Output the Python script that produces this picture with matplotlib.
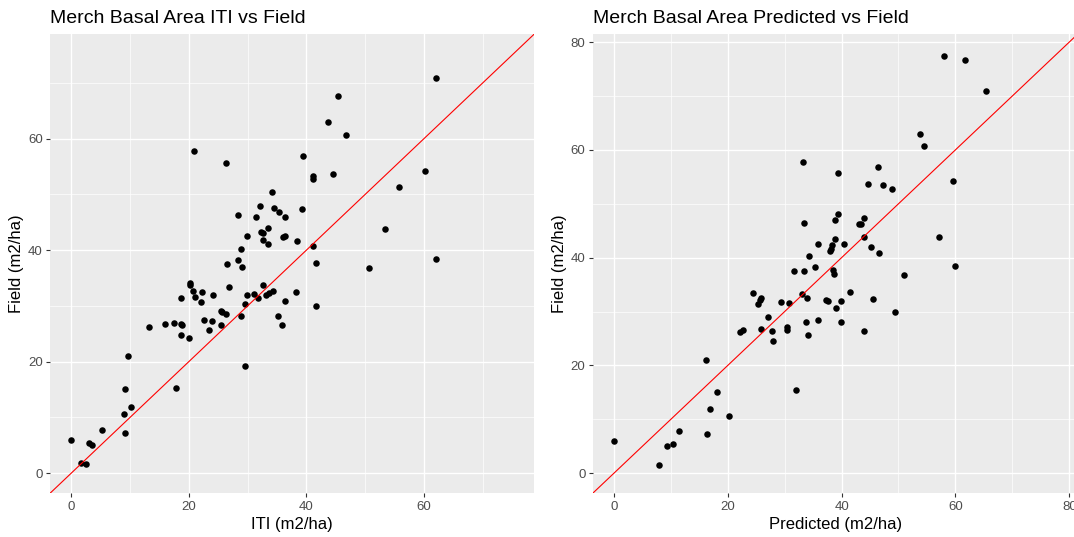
import matplotlib
matplotlib.use("Agg")
import matplotlib.pyplot as plt
from matplotlib.ticker import MultipleLocator

plt.rcParams['font.family'] = ['Liberation Sans', 'DejaVu Sans']

# ---- Data: ITI vs Field ----
iti_x = [20.9, 26.3, 62.1, 45.3, 43.6, 46.8, 39.5, 41.2, 41.1, 44.5, 60.2, 55.7,
         34.2, 32.1, 34.5, 35.4, 39.2, 28.3, 31.5, 36.4, 32.3, 32.6, 33.5, 29.9,
         32.6, 36.1, 36.3, 38.4, 33.4, 41.2, 28.9, 53.4, 62.1, 28.4, 26.5, 41.6,
         29.0, 50.6,
         20.2, 20.2, 20.7, 22.3, 26.9, 32.6, 34.3, 33.6, 33.2, 38.2, 29.9, 31.1,
         24.2, 21.1, 18.7, 31.7, 22.0, 29.5, 36.3, 41.6, 25.5, 25.7, 26.3, 28.9,
         35.1, 22.6, 23.9, 17.4, 15.9, 18.6, 18.9, 25.4, 35.8, 13.2, 23.4, 18.6,
         20.0, 29.6, 9.7, 17.8, 9.1, 10.2, 9.0, 9.1, 5.3, 0.0, 3.0, 3.6, 1.6, 2.6]
iti_field = [57.7, 55.7, 70.9, 67.7, 62.9, 60.6, 56.8, 53.3, 52.8, 53.6, 54.1, 51.4,
             50.5, 47.9, 47.6, 46.8, 47.4, 46.3, 46.0, 46.0, 43.2, 43.1, 43.9, 42.5,
             41.8, 42.3, 42.5, 41.7, 41.1, 40.8, 40.2, 43.7, 38.4, 38.3, 37.5, 37.7,
             37.0, 36.8,
             34.1, 33.7, 32.7, 32.5, 33.3, 33.8, 32.7, 32.3, 32.0, 32.5, 32.0, 32.1,
             31.9, 31.6, 31.4, 31.4, 30.7, 30.4, 30.9, 29.9, 29.0, 28.9, 28.5, 28.2,
             28.2, 27.5, 27.3, 26.9, 26.7, 26.7, 26.5, 26.5, 26.5, 26.3, 25.6, 24.7,
             24.3, 19.3, 21.0, 15.3, 15.1, 11.8, 10.6, 7.3, 7.8, 6.0, 5.5, 5.0, 1.9, 1.6]

# ---- Data: Predicted vs Field ----
pred_x = [58.0, 61.6, 65.4, 53.8, 54.5, 33.2, 39.3, 46.4, 44.6, 47.2, 48.9, 59.5,
          39.4, 38.8, 44.0, 33.4, 43.1, 43.4, 38.8, 44.0, 57.1, 40.5, 35.9, 38.4,
          38.2, 38.0, 45.2, 46.6, 34.2, 59.9, 35.4,
          31.7, 33.4, 38.5, 38.7, 51.0, 24.4, 41.5, 33.0, 25.9, 25.6, 34.0, 45.6,
          37.2, 37.7, 39.9, 29.3, 30.8, 25.3, 39.1, 49.4, 27.0, 35.8, 33.7, 39.9,
          30.4, 30.4, 25.9, 22.1, 22.7, 27.8, 44.0, 34.1, 27.9, 16.2, 32.0, 18.1,
          16.9, 20.3, 16.3, 11.5, 0.0, 9.3, 10.4, 8.0]
pred_field = [77.5, 76.7, 70.9, 63.0, 60.7, 57.7, 55.8, 56.8, 53.7, 53.4, 52.8, 54.2,
              48.1, 46.9, 47.4, 46.4, 46.2, 46.2, 43.4, 43.9, 43.9, 42.6, 42.6, 42.3,
              41.7, 41.3, 41.9, 40.9, 40.4, 38.5, 38.3,
              37.5, 37.5, 37.7, 37.0, 36.7, 33.5, 33.7, 33.2, 32.5, 32.2, 32.5, 32.4,
              32.2, 31.9, 31.9, 31.7, 31.5, 31.4, 30.7, 29.9, 29.0, 28.5, 28.1, 28.1,
              27.2, 26.5, 26.8, 26.2, 26.5, 26.4, 26.4, 25.6, 24.6, 21.0, 15.4, 15.0,
              11.9, 10.6, 7.3, 7.8, 6.0, 5.0, 5.5, 1.5]

titles = ["Merch Basal Area ITI vs Field", "Merch Basal Area Predicted vs Field"]
xlabels = ["ITI (m2/ha)", "Predicted (m2/ha)"]
ylabel = "Field (m2/ha)"

W, H = 1074, 537
fig = plt.figure(figsize=(W / 100, H / 100), dpi=100)
fig.patch.set_facecolor('white')

def px_rect(left, right, top, bottom):
    return [left / W, 1 - bottom / H, (right - left) / W, (bottom - top) / H]

ax1 = fig.add_axes(px_rect(50, 534.3, 34, 493.3))
ax2 = fig.add_axes(px_rect(592.7, 1077.8, 34, 493.3))

panels = [
    (ax1, iti_x, iti_field, (-3.6, 78.75), (-3.6, 78.75), [0, 20, 40, 60]),
    (ax2, pred_x, pred_field, (-3.72, 81.5), (-3.72, 81.5), [0, 20, 40, 60, 80]),
]

for i, (ax, xs, ys, xl, yl, ticks) in enumerate(panels):
    ax.set_facecolor('#EBEBEB')
    ax.set_xlim(*xl)
    ax.set_ylim(*yl)
    ax.set_xticks(ticks)
    ax.set_yticks(ticks)
    ax.xaxis.set_minor_locator(MultipleLocator(10))
    ax.yaxis.set_minor_locator(MultipleLocator(10))
    ax.grid(which='major', color='white', linewidth=1.0)
    ax.grid(which='minor', color='white', linewidth=0.5)
    ax.set_axisbelow(True)
    for s in ax.spines.values():
        s.set_visible(False)
    ax.tick_params(which='major', length=2.7, width=0.8, color='#333333',
                   labelcolor='#4D4D4D', labelsize=9.5, pad=2.5)
    ax.tick_params(which='minor', length=0)
    ax.scatter(xs, ys, s=22, color='black', linewidths=0, zorder=3)
    ax.axline((0, 0), slope=1, color='#FF0000', linewidth=0.8, zorder=4)
    ax.set_xlabel(xlabels[i], fontsize=12, color='black', labelpad=3)
    ax.set_ylabel(ylabel, fontsize=12, color='black', labelpad=3)
    ax.text(0.0, 1.0 + (34 - 23.4) / (493.3 - 34), titles[i], transform=ax.transAxes,
            ha='left', va='baseline', fontsize=14, color='black')

fig.savefig('out.png', dpi=100)
